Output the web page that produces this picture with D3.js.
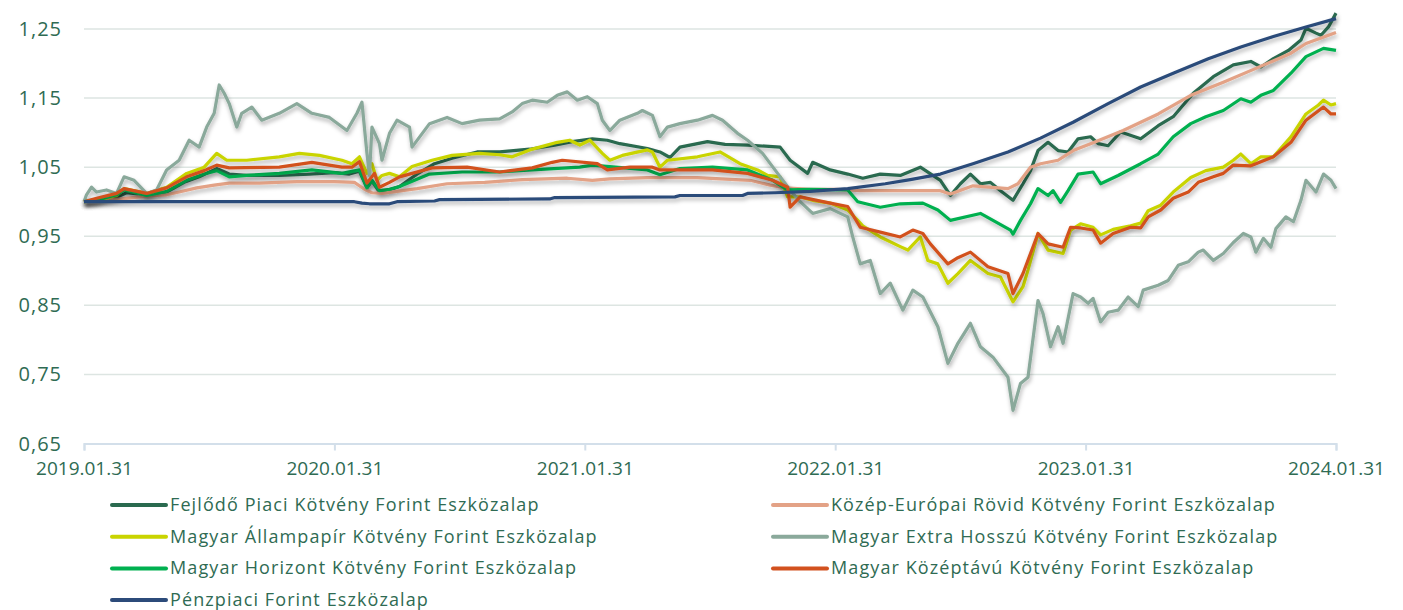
<!DOCTYPE html>
<html>
<head>
<meta charset="utf-8">
<script src="https://cdn.jsdelivr.net/npm/d3@7"></script>
<style>
  body { margin: 0; background: #fff; }
  svg { display: block; font-family: "Open Sans", sans-serif; }
</style>
</head>
<body>
<svg id="chart" width="1403" height="610"></svg>
<script>
// x: years since 2019.01.31, y: value
var xTickLabels = ["2019.01.31", "2020.01.31", "2021.01.31", "2022.01.31", "2023.01.31", "2024.01.31"];
var yTicks = [0.65, 0.75, 0.85, 0.95, 1.05, 1.15, 1.25];

var fejlodo = [[0,1.000],[0.05,1.002],[0.12,1.005],[0.17,1.013],[0.25,1.010],[0.33,1.014],[0.40,1.028],[0.46,1.036],[0.53,1.048],[0.58,1.040],[0.65,1.038],[0.78,1.038],[0.90,1.040],[1.00,1.042],[1.06,1.040],[1.10,1.044],[1.13,1.020],[1.15,1.030],[1.18,1.014],[1.21,1.016],[1.26,1.022],[1.33,1.040],[1.40,1.055],[1.47,1.063],[1.57,1.072],[1.66,1.072],[1.78,1.076],[1.88,1.082],[1.95,1.087],[2.03,1.091],[2.09,1.089],[2.14,1.084],[2.25,1.077],[2.30,1.072],[2.34,1.064],[2.38,1.079],[2.49,1.087],[2.56,1.083],[2.65,1.082],[2.78,1.079],[2.82,1.060],[2.89,1.041],[2.91,1.057],[2.98,1.046],[3.05,1.040],[3.11,1.034],[3.18,1.040],[3.26,1.038],[3.34,1.050],[3.42,1.031],[3.46,1.009],[3.50,1.026],[3.54,1.040],[3.58,1.026],[3.62,1.028],[3.66,1.016],[3.71,1.002],[3.75,1.026],[3.78,1.045],[3.81,1.074],[3.85,1.086],[3.89,1.074],[3.93,1.072],[3.97,1.091],[4.02,1.094],[4.05,1.084],[4.09,1.081],[4.14,1.101],[4.22,1.091],[4.29,1.110],[4.35,1.123],[4.43,1.157],[4.51,1.181],[4.59,1.198],[4.66,1.203],[4.70,1.195],[4.75,1.207],[4.81,1.219],[4.86,1.234],[4.88,1.251],[4.92,1.244],[4.94,1.241],[4.97,1.253],[5.00,1.273]];

var kozepEuropai = [[0,1.000],[0.15,1.004],[0.25,1.008],[0.33,1.010],[0.38,1.014],[0.45,1.020],[0.52,1.024],[0.58,1.027],[0.70,1.027],[0.85,1.029],[1.00,1.029],[1.08,1.028],[1.12,1.018],[1.15,1.013],[1.19,1.012],[1.25,1.015],[1.33,1.019],[1.45,1.026],[1.60,1.028],[1.75,1.032],[1.93,1.034],[2.03,1.031],[2.10,1.033],[2.25,1.035],[2.45,1.035],[2.60,1.032],[2.66,1.031],[2.74,1.024],[2.80,1.020],[2.90,1.018],[3.00,1.018],[3.10,1.016],[3.25,1.016],[3.42,1.016],[3.46,1.011],[3.55,1.023],[3.69,1.019],[3.73,1.026],[3.78,1.050],[3.82,1.055],[3.89,1.060],[3.95,1.074],[4.02,1.084],[4.15,1.103],[4.29,1.127],[4.42,1.154],[4.55,1.173],[4.68,1.193],[4.82,1.215],[4.88,1.229],[5.00,1.245]];

var allampapir = [[0,1.000],[0.05,1.002],[0.13,1.009],[0.16,1.019],[0.25,1.012],[0.33,1.021],[0.41,1.041],[0.48,1.050],[0.53,1.070],[0.57,1.060],[0.65,1.060],[0.78,1.065],[0.86,1.070],[0.94,1.067],[1.03,1.060],[1.07,1.055],[1.10,1.065],[1.13,1.041],[1.15,1.055],[1.17,1.031],[1.19,1.038],[1.22,1.041],[1.26,1.036],[1.31,1.051],[1.39,1.060],[1.47,1.067],[1.58,1.070],[1.66,1.068],[1.71,1.065],[1.78,1.075],[1.89,1.086],[1.94,1.089],[1.98,1.082],[2.02,1.089],[2.07,1.070],[2.10,1.060],[2.15,1.067],[2.25,1.075],[2.27,1.072],[2.30,1.050],[2.33,1.060],[2.45,1.065],[2.54,1.072],[2.62,1.055],[2.69,1.046],[2.73,1.038],[2.78,1.036],[2.81,1.007],[2.86,1.007],[2.91,1.002],[2.98,0.998],[3.05,0.988],[3.09,0.973],[3.11,0.965],[3.18,0.949],[3.26,0.935],[3.29,0.930],[3.34,0.949],[3.37,0.915],[3.41,0.910],[3.45,0.882],[3.49,0.896],[3.54,0.915],[3.61,0.896],[3.66,0.891],[3.70,0.862],[3.71,0.855],[3.75,0.877],[3.77,0.901],[3.81,0.954],[3.85,0.930],[3.91,0.925],[3.94,0.959],[3.98,0.968],[4.03,0.963],[4.06,0.952],[4.11,0.960],[4.18,0.965],[4.22,0.969],[4.25,0.987],[4.30,0.995],[4.35,1.014],[4.42,1.035],[4.48,1.045],[4.55,1.050],[4.59,1.060],[4.62,1.069],[4.66,1.055],[4.70,1.065],[4.75,1.065],[4.82,1.094],[4.88,1.127],[4.93,1.140],[4.95,1.147],[4.98,1.140],[5.00,1.142]];

var extraHosszu = [[0,1.000],[0.01,1.010],[0.03,1.021],[0.05,1.014],[0.09,1.017],[0.13,1.012],[0.16,1.036],[0.20,1.031],[0.25,1.012],[0.29,1.017],[0.33,1.046],[0.38,1.060],[0.42,1.089],[0.46,1.079],[0.49,1.108],[0.52,1.128],[0.54,1.169],[0.56,1.157],[0.58,1.142],[0.61,1.108],[0.63,1.128],[0.67,1.137],[0.71,1.118],[0.78,1.128],[0.85,1.142],[0.91,1.128],[0.98,1.122],[1.05,1.103],[1.09,1.128],[1.11,1.144],[1.13,1.070],[1.14,1.038],[1.15,1.108],[1.18,1.084],[1.19,1.060],[1.22,1.099],[1.25,1.118],[1.30,1.108],[1.31,1.079],[1.38,1.113],[1.45,1.122],[1.51,1.113],[1.58,1.118],[1.66,1.120],[1.71,1.130],[1.75,1.142],[1.79,1.147],[1.85,1.144],[1.89,1.154],[1.93,1.159],[1.97,1.147],[2.01,1.152],[2.05,1.142],[2.07,1.118],[2.10,1.103],[2.14,1.118],[2.21,1.128],[2.23,1.132],[2.27,1.125],[2.30,1.094],[2.33,1.108],[2.38,1.113],[2.45,1.118],[2.51,1.125],[2.55,1.118],[2.61,1.099],[2.65,1.089],[2.71,1.070],[2.77,1.041],[2.82,1.017],[2.86,1.000],[2.91,0.983],[2.98,0.990],[3.05,0.978],[3.07,0.949],[3.10,0.910],[3.14,0.915],[3.18,0.867],[3.22,0.882],[3.27,0.843],[3.31,0.872],[3.35,0.862],[3.41,0.819],[3.45,0.766],[3.49,0.795],[3.54,0.824],[3.58,0.790],[3.63,0.775],[3.69,0.746],[3.71,0.698],[3.74,0.737],[3.77,0.746],[3.81,0.857],[3.83,0.838],[3.86,0.790],[3.89,0.819],[3.91,0.795],[3.95,0.867],[3.98,0.862],[4.01,0.853],[4.03,0.860],[4.06,0.826],[4.09,0.840],[4.13,0.843],[4.17,0.862],[4.21,0.848],[4.23,0.872],[4.29,0.879],[4.33,0.886],[4.37,0.908],[4.41,0.913],[4.45,0.927],[4.47,0.930],[4.51,0.915],[4.55,0.925],[4.59,0.941],[4.63,0.954],[4.66,0.949],[4.68,0.927],[4.71,0.947],[4.74,0.934],[4.76,0.961],[4.80,0.978],[4.83,0.971],[4.86,1.002],[4.88,1.031],[4.92,1.014],[4.95,1.040],[4.98,1.031],[5.00,1.019]];

var horizont = [[0,1.000],[0.05,1.002],[0.13,1.010],[0.16,1.017],[0.25,1.009],[0.33,1.015],[0.41,1.031],[0.48,1.040],[0.53,1.045],[0.58,1.036],[0.65,1.038],[0.78,1.041],[0.91,1.046],[1.03,1.041],[1.10,1.046],[1.13,1.020],[1.15,1.031],[1.18,1.016],[1.22,1.018],[1.26,1.022],[1.38,1.040],[1.51,1.043],[1.66,1.043],[1.79,1.046],[1.98,1.050],[2.03,1.053],[2.25,1.046],[2.30,1.039],[2.38,1.048],[2.51,1.050],[2.65,1.046],[2.75,1.031],[2.81,1.017],[2.90,1.018],[3.05,1.017],[3.09,1.000],[3.18,0.992],[3.26,0.997],[3.35,0.998],[3.41,0.988],[3.46,0.973],[3.58,0.983],[3.70,0.959],[3.71,0.953],[3.74,0.973],[3.78,0.997],[3.81,1.019],[3.85,1.009],[3.87,1.016],[3.90,0.999],[3.93,1.016],[3.97,1.040],[4.03,1.043],[4.06,1.026],[4.13,1.038],[4.22,1.055],[4.29,1.069],[4.35,1.094],[4.42,1.113],[4.48,1.123],[4.55,1.132],[4.62,1.149],[4.66,1.144],[4.70,1.154],[4.75,1.161],[4.82,1.186],[4.88,1.210],[4.95,1.222],[5.00,1.219]];

var kozeptavu = [[0,1.000],[0.05,1.005],[0.13,1.012],[0.16,1.019],[0.25,1.012],[0.33,1.020],[0.41,1.036],[0.48,1.045],[0.53,1.053],[0.58,1.049],[0.78,1.050],[0.91,1.057],[1.03,1.050],[1.07,1.050],[1.10,1.058],[1.13,1.027],[1.16,1.041],[1.18,1.021],[1.22,1.028],[1.26,1.036],[1.39,1.049],[1.53,1.050],[1.66,1.043],[1.79,1.049],[1.87,1.057],[1.91,1.060],[2.05,1.055],[2.09,1.046],[2.18,1.050],[2.27,1.050],[2.30,1.046],[2.51,1.046],[2.65,1.041],[2.75,1.031],[2.81,1.021],[2.82,0.992],[2.86,1.007],[2.98,0.998],[3.05,0.993],[3.10,0.963],[3.18,0.956],[3.26,0.949],[3.31,0.959],[3.35,0.954],[3.38,0.939],[3.45,0.910],[3.49,0.919],[3.54,0.927],[3.61,0.906],[3.69,0.896],[3.71,0.867],[3.75,0.896],[3.81,0.954],[3.85,0.939],[3.91,0.934],[3.94,0.963],[3.98,0.962],[4.03,0.959],[4.06,0.940],[4.11,0.954],[4.18,0.963],[4.22,0.962],[4.25,0.978],[4.30,0.988],[4.35,1.005],[4.41,1.014],[4.45,1.028],[4.51,1.036],[4.55,1.041],[4.59,1.053],[4.66,1.052],[4.75,1.065],[4.82,1.086],[4.88,1.118],[4.95,1.137],[4.98,1.127],[5.00,1.127]];

var penzpiaci = [[0,1.000],[1.08,1.000],[1.11,0.998],[1.14,0.997],[1.22,0.997],[1.25,1.000],[1.40,1.001],[1.42,1.003],[1.86,1.004],[1.88,1.006],[2.36,1.007],[2.38,1.009],[2.63,1.009],[2.65,1.012],[2.76,1.013],[2.90,1.015],[3.05,1.019],[3.20,1.026],[3.30,1.032],[3.42,1.040],[3.55,1.055],[3.69,1.072],[3.82,1.092],[3.95,1.115],[4.09,1.142],[4.22,1.166],[4.35,1.186],[4.49,1.207],[4.62,1.224],[4.75,1.239],[4.88,1.253],[5.00,1.265]];

var seriesNames = ["Fejlődő Piaci Kötvény Forint Eszközalap", "Közép-Európai Rövid Kötvény Forint Eszközalap",
    "Magyar Állampapír Kötvény Forint Eszközalap", "Magyar Extra Hosszú Kötvény Forint Eszközalap",
    "Magyar Horizont Kötvény Forint Eszközalap", "Magyar Középtávú Kötvény Forint Eszközalap",
    "Pénzpiaci Forint Eszközalap"];
var seriesData = [fejlodo, kozepEuropai, allampapir, extraHosszu, horizont, kozeptavu, penzpiaci];
var seriesColors = ["#2a6a4f", "#e3a286", "#c9d400", "#8aa99b", "#00b050", "#d2511e", "#2c4b7a"];

var textColor = "#2f6b53";
var svg = d3.select("#chart");

var x = d3.scaleLinear().domain([0, 5]).range([84, 1336]);
var y = d3.scaleLinear().domain([0.65, 1.25]).range([443.5, 29]);

// shadow under the lines
var defs = svg.append("defs");
defs.append("filter").attr("id", "shadow")
    .attr("x", "-5%").attr("y", "-5%").attr("width", "110%").attr("height", "120%")
    .append("feDropShadow")
    .attr("dx", 1).attr("dy", 3).attr("stdDeviation", 2)
    .attr("flood-color", "#000").attr("flood-opacity", 0.3);

// gridlines
svg.append("g").selectAll("line")
    .data(yTicks.slice(1))
    .enter().append("line")
    .attr("x1", x(0)).attr("x2", x(5))
    .attr("y1", function (d) { return y(d); })
    .attr("y2", function (d) { return y(d); })
    .style("stroke", "#dde5e2")
    .style("stroke-width", "1.5px");

// y labels
svg.append("g").selectAll("text")
    .data(yTicks)
    .enter().append("text")
    .attr("x", 62)
    .attr("y", function (d) { return y(d) + 7; })
    .attr("text-anchor", "end")
    .style("font-size", "20px")
    .style("letter-spacing", "1px")
    .style("fill", textColor)
    .text(function (d) { return d3.format(".2f")(d).replace(".", ","); });

// x axis
var xAxis = d3.axisBottom(x)
    .tickValues(d3.range(6))
    .tickSize(7)
    .tickFormat(function (d, i) { return xTickLabels[i]; });

var gx = svg.append("g")
    .attr("transform", "translate(0," + y(0.65) + ")")
    .call(xAxis);
gx.select(".domain").style("stroke", "#d3dfea").style("stroke-width", "2px");
gx.selectAll(".tick line").style("stroke", "#d3dfea").style("stroke-width", "2px");
gx.selectAll(".tick text")
    .attr("dy", 0).attr("y", 31)
    .style("font-family", "'Open Sans', sans-serif")
    .style("font-size", "19px")
    .style("fill", textColor);

// lines
var line = d3.line()
    .x(function (d) { return x(d[0]); })
    .y(function (d) { return y(d[1]); });

var lines = svg.append("g").attr("class", "lines");
seriesData.forEach(function (s, i) {
    lines.append("path")
        .datum(s)
        .attr("d", line)
        .attr("filter", "url(#shadow)")
        .style("fill", "none")
        .style("stroke", seriesColors[i])
        .style("stroke-width", "3.2px")
        .style("stroke-linejoin", "round");
});

// legend, two columns
var legend = svg.append("g").selectAll("g")
    .data(seriesNames)
    .enter().append("g")
    .attr("transform", function (d, i) {
        var col = i % 2, row = Math.floor(i / 2);
        return "translate(" + (col === 0 ? 112 : 773) + "," + (505 + row * 31.7) + ")";
    });

legend.append("line")
    .attr("x1", 0).attr("x2", 54)
    .style("stroke", function (d, i) { return seriesColors[i]; })
    .style("stroke-width", "4px")
    .style("stroke-linecap", "round");

legend.append("text")
    .attr("x", 58)
    .attr("y", 6)
    .style("font-size", "18px")
    .style("letter-spacing", "1.1px")
    .style("fill", textColor)
    .text(function (d) { return d; });
</script>
</body>
</html>
